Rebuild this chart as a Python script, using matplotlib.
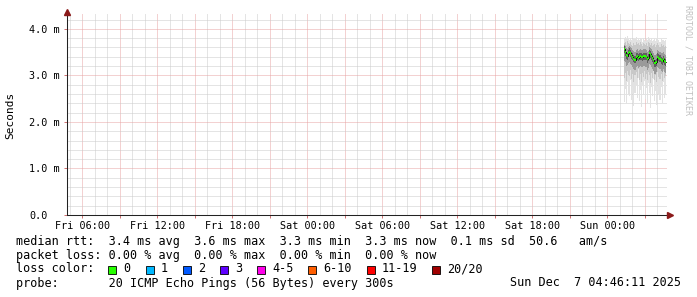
import matplotlib
matplotlib.use('Agg')
import matplotlib.pyplot as plt
import matplotlib.dates as mdates
from matplotlib.patches import Rectangle
from matplotlib.lines import Line2D
from matplotlib.ticker import MultipleLocator, FuncFormatter
from datetime import datetime, timedelta

# ---------------- data ----------------
end_time = datetime(2025, 12, 7, 4, 46, 11)
span_hours = 48
first_step_end = datetime(2025, 12, 7, 1, 25)
step_minutes = 5

median = [3.57, 3.50, 3.44, 3.42, 3.48, 3.51, 3.47, 3.44, 3.40, 3.36,
          3.34, 3.40, 3.42, 3.38, 3.40, 3.41, 3.40, 3.39, 3.42, 3.42,
          3.41, 3.40, 3.35, 3.38, 3.47, 3.45, 3.41, 3.37, 3.33, 3.27,
          3.26, 3.29, 3.40, 3.38, 3.36, 3.33, 3.31, 3.35, 3.30, 3.28]
ping_max = [3.80, 3.82, 3.78, 3.84, 3.79, 3.76, 3.81, 3.77, 3.74, 3.80,
            3.78, 3.83, 3.76, 3.79, 3.75, 3.81, 3.78, 3.72, 3.80, 3.77,
            3.74, 3.79, 3.76, 3.82, 3.78, 3.75, 3.80, 3.73, 3.77, 3.79,
            3.74, 3.78, 3.81, 3.76, 3.72, 3.79, 3.75, 3.77, 3.73, 3.76]
ping_min = [2.42, 2.70, 2.38, 2.85, 2.60, 2.55, 2.90, 2.48, 2.75, 2.35,
            2.62, 2.80, 2.52, 2.95, 2.45, 2.68, 2.33, 2.78, 2.58, 2.88,
            2.50, 2.72, 2.40, 2.84, 2.63, 2.30, 2.76, 2.55, 2.92, 2.44,
            2.66, 2.36, 2.82, 2.58, 2.47, 2.74, 2.40, 2.86, 2.52, 2.60]
ping_hi2 = [3.70, 3.72, 3.66, 3.74, 3.70, 3.67, 3.71, 3.66, 3.64, 3.69,
            3.66, 3.72, 3.67, 3.70, 3.65, 3.71, 3.68, 3.63, 3.70, 3.68,
            3.65, 3.69, 3.64, 3.72, 3.69, 3.66, 3.70, 3.63, 3.66, 3.67,
            3.62, 3.66, 3.70, 3.66, 3.62, 3.68, 3.64, 3.66, 3.61, 3.64]
ping_lo2 = [2.95, 3.05, 2.88, 3.10, 3.00, 2.98, 3.12, 2.92, 3.04, 2.86,
            3.00, 3.08, 2.94, 3.14, 2.90, 3.02, 2.85, 3.06, 2.97, 3.10,
            2.93, 3.03, 2.89, 3.08, 3.00, 2.84, 3.05, 2.95, 3.11, 2.90,
            3.00, 2.86, 3.07, 2.97, 2.92, 3.04, 2.88, 3.09, 2.94, 2.98]
ping_hi3 = [3.66, 3.64, 3.58, 3.57, 3.62, 3.64, 3.60, 3.58, 3.55, 3.52,
            3.50, 3.55, 3.57, 3.53, 3.55, 3.56, 3.55, 3.54, 3.57, 3.57,
            3.56, 3.55, 3.51, 3.53, 3.61, 3.59, 3.56, 3.52, 3.49, 3.44,
            3.43, 3.45, 3.55, 3.53, 3.51, 3.49, 3.47, 3.50, 3.46, 3.44]
ping_lo3 = [3.30, 3.28, 3.20, 3.22, 3.27, 3.28, 3.24, 3.22, 3.18, 3.14,
            3.12, 3.19, 3.21, 3.16, 3.18, 3.20, 3.17, 3.17, 3.21, 3.20,
            3.19, 3.18, 3.12, 3.16, 3.25, 3.22, 3.19, 3.14, 3.10, 3.04,
            3.03, 3.07, 3.18, 3.16, 3.13, 3.10, 3.08, 3.13, 3.07, 3.05]
ping_hi4 = [3.63, 3.57, 3.51, 3.49, 3.55, 3.58, 3.54, 3.51, 3.47, 3.43,
            3.41, 3.47, 3.49, 3.45, 3.47, 3.48, 3.47, 3.46, 3.49, 3.49,
            3.48, 3.47, 3.42, 3.45, 3.54, 3.52, 3.48, 3.44, 3.40, 3.34,
            3.33, 3.36, 3.47, 3.45, 3.43, 3.40, 3.38, 3.42, 3.37, 3.35]
ping_lo4 = [3.47, 3.42, 3.36, 3.34, 3.40, 3.43, 3.39, 3.36, 3.32, 3.28,
            3.26, 3.32, 3.34, 3.30, 3.32, 3.33, 3.32, 3.31, 3.34, 3.34,
            3.33, 3.32, 3.27, 3.30, 3.39, 3.37, 3.33, 3.29, 3.25, 3.19,
            3.18, 3.21, 3.32, 3.30, 3.28, 3.25, 3.23, 3.27, 3.22, 3.20]

stat_rtt = {'avg': 3.4, 'max': 3.6, 'min': 3.3, 'now': 3.3, 'sd': 0.1}
stat_amps = 50.6
stat_loss = {'avg': 0.00, 'max': 0.00, 'min': 0.00, 'now': 0.00}
loss_labels = ['0', '1', '2', '3', '4-5', '6-10', '11-19', '20/20']
loss_colors = ['#26ff00', '#00b8ff', '#0059ff', '#5e00ff',
               '#ff00ea', '#ff5e00', '#ff0000', '#a00000']
probe_text = '20 ICMP Echo Pings (56 Bytes) every 300s'
date_text = 'Sun Dec  7 04:46:11 2025'
y_max = 4.34

# ---------------- figure ----------------
W, H = 697, 297
MONO = 'DejaVu Sans Mono'
plt.rcParams['font.family'] = MONO
plt.rcParams['lines.scale_dashes'] = False
fig = plt.figure(figsize=(W / 100, H / 100), dpi=100)
fig.patch.set_facecolor('white')

ax_left, ax_right, ax_top, ax_bot = 67, 667, 13, 215
ax = fig.add_axes([ax_left / W, (H - ax_bot) / H,
                   (ax_right - ax_left) / W, (ax_bot - ax_top) / H])
ax.set_facecolor('white')

start_time = end_time - timedelta(hours=span_hours)
ax.set_xlim(start_time, end_time)
ax.set_ylim(0, y_max)

n = len(median)
step_ends = [first_step_end + timedelta(minutes=step_minutes * i) for i in range(n)]
xs = [step_ends[0] - timedelta(minutes=step_minutes)] + step_ends


def ext(v):
    return [v[0]] + list(v)


bands = [(ping_min, ping_max, '#e2e2e2'),
         (ping_lo2, ping_hi2, '#c8c8c8'),
         (ping_lo3, ping_hi3, '#9a9a9a'),
         (ping_lo4, ping_hi4, '#606060')]
for lo, hi, c in bands:
    ax.fill_between(xs, ext(lo), ext(hi), step='pre', color=c, lw=0, zorder=2)

ax.step(xs, ext(median), where='pre', color='black', lw=0.6, zorder=3)
ax.hlines(median, xs[:-1], xs[1:], color=loss_colors[0], lw=1.5, zorder=4)

# grid
ax.xaxis.set_major_locator(mdates.HourLocator(byhour=range(0, 24, 3)))
ax.xaxis.set_minor_locator(mdates.HourLocator(interval=1))


def xfmt(v, p):
    d = mdates.num2date(v)
    return d.strftime('%a %H:%M') if d.hour % 6 == 0 else ''


ax.xaxis.set_major_formatter(FuncFormatter(xfmt))
ax.yaxis.set_major_locator(MultipleLocator(1.0))
ax.yaxis.set_minor_locator(MultipleLocator(0.2))
ax.yaxis.set_major_formatter(FuncFormatter(lambda v, p: '0.0' if abs(v) < 1e-9 else f'{v:.1f} m'))

ax.grid(which='minor', color='#cbcbcb', lw=0.72, ls=(0, (0.72, 0.72)), zorder=1)
ax.grid(which='major', color='#e8a4a4', lw=0.72, ls=(0, (0.72, 0.72)), zorder=1)
ax.set_axisbelow(True)

ax.tick_params(which='major', axis='x', length=2.5, width=0.7, color='#d07070',
               labelsize=7.3, pad=2, direction='out')
ax.tick_params(which='minor', axis='both', length=0)
ax.tick_params(which='major', axis='y', length=2, width=0.7, color='#d07070',
               labelsize=7.3, pad=25.4)
plt.setp(ax.get_yticklabels(), ha='left')

for s in ['top', 'right']:
    ax.spines[s].set_visible(False)
for s in ['left', 'bottom']:
    ax.spines[s].set_color('#222222')
    ax.spines[s].set_linewidth(0.75)
    ax.spines[s].set_zorder(5)

# arrows
arrow_c = '#8b1a1a'
fig.add_artist(Line2D([ax_left / W], [1 - 11.5 / H], marker='^', ms=4.5, color=arrow_c,
                      transform=fig.transFigure, lw=0))
fig.add_artist(Line2D([(ax_right + 3) / W], [1 - ax_bot / H], marker='>', ms=4.5, color=arrow_c,
                      transform=fig.transFigure, lw=0))

# labels
fig.text(10 / W, 1 - 115 / H, 'Seconds', rotation=90, ha='center', va='center', fontsize=8)
fig.text(688 / W, 1 - 5 / H, 'RRDTOOL / TOBI OETIKER', rotation=270, ha='center', va='top',
         fontsize=6, color='#c0c0c0')

FS = 8.5
lx = 16
line_rtt = ('median rtt:  {avg:.1f} ms avg  {max:.1f} ms max  {min:.1f} ms min  '
            '{now:.1f} ms now  {sd:.1f} ms sd  ').format(**stat_rtt) + f'{stat_amps:.1f}   am/s'
line_loss = ('packet loss: {avg:.2f} % avg  {max:.2f} % max  {min:.2f} % min  '
             '{now:.2f} % now').format(**stat_loss)
fig.text(lx / W, 1 - 241 / H, line_rtt, fontsize=FS, va='center', ha='left')
fig.text(lx / W, 1 - 255 / H, line_loss, fontsize=FS, va='center', ha='left')
fig.text(lx / W, 1 - 269 / H, 'loss color:', fontsize=FS, va='center', ha='left')
fig.text(lx / W, 1 - 283 / H, 'probe:       ' + probe_text, fontsize=FS, va='center', ha='left')
fig.text(681 / W, 1 - 283 / H, date_text, fontsize=FS, va='center', ha='right')

char_w = 7.13
bx = 108.4
for lab, col in zip(loss_labels, loss_colors):
    fig.add_artist(Rectangle((bx / W, 1 - 273.5 / H), 8 / W, 8 / H, transform=fig.transFigure,
                             facecolor=col, edgecolor='black', lw=0.6))
    fig.text((bx + 15) / W, 1 - 269 / H, lab, fontsize=FS, va='center', ha='left')
    bx = bx + 15 + len(lab) * char_w + 15

fig.savefig('out.png', dpi=100, facecolor='white')
